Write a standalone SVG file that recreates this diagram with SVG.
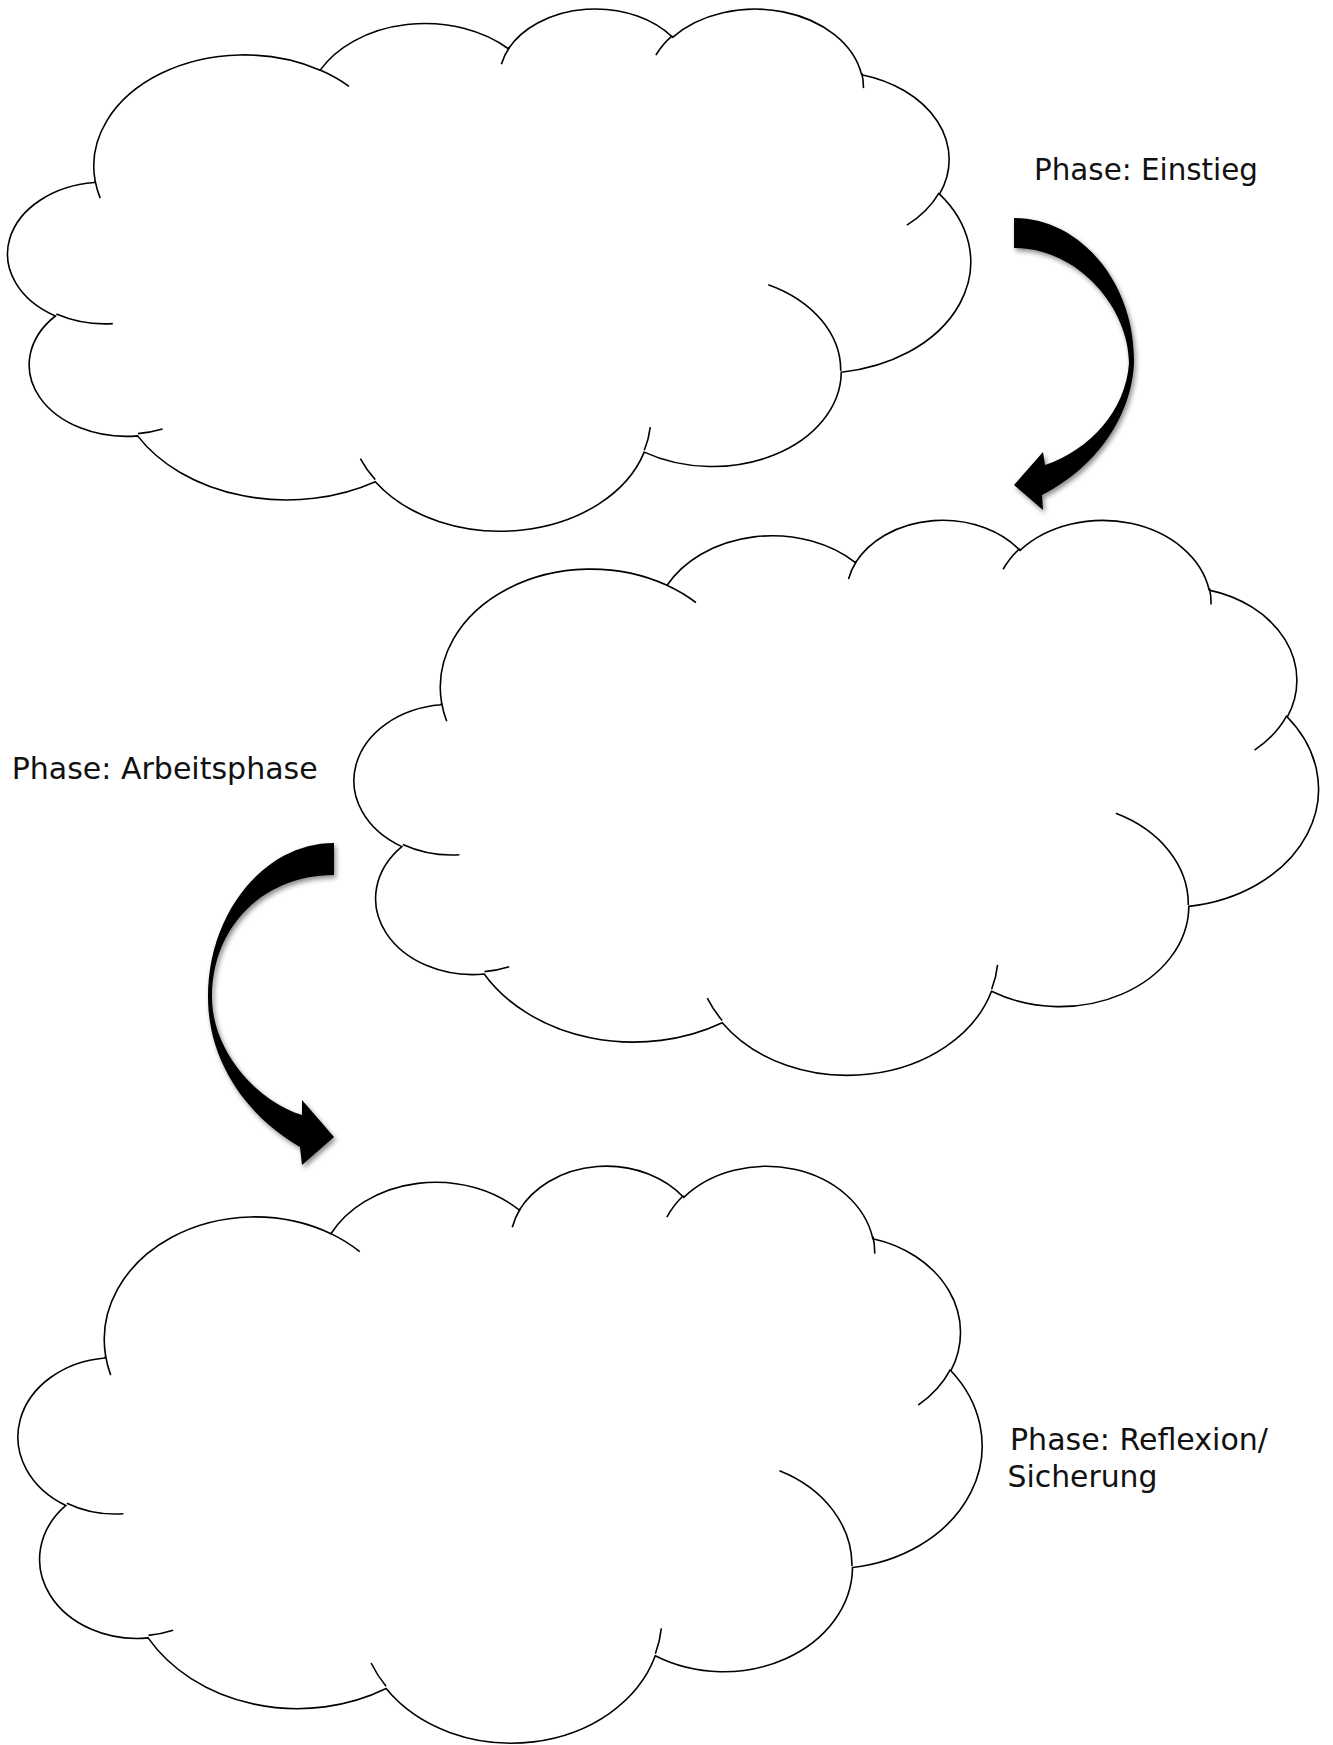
<svg xmlns="http://www.w3.org/2000/svg" xmlns:xlink="http://www.w3.org/1999/xlink" width="1333" height="1745" viewBox="0 0 1333 1745">
  <style>
    .cloud { fill: #ffffff; stroke: #000000; stroke-width: 1.6; vector-effect: non-scaling-stroke; }
    .deco { fill: none; stroke: #000000; stroke-width: 1.6; vector-effect: non-scaling-stroke; }
    .arrow { fill: #000000; stroke: none; filter: url(#shadow); }
    .label { font-family: "DejaVu Sans", "Liberation Sans", sans-serif; font-size: 29.5px; fill: #111111; }
  </style>
  <defs>
    <filter id="shadow" x="-30%" y="-20%" width="160%" height="150%">
      <feDropShadow dx="2" dy="3" stdDeviation="2.5" flood-color="#000000" flood-opacity="0.45"/>
    </filter>
  </defs>
  <rect x="0" y="0" width="1333" height="1745" fill="#ffffff"/>

  <g id="cloud-einstieg" transform="translate(8.3 7.3) scale(0.022269 0.012083)">
    <path class="cloud" d="M 3900 14370 A 6753 9190 0 0 1 14005 5202 A 5333 7267 0 0 1 22456 3432 A 4365 5945 0 0 1 29833 2481 A 4857 6595 0 0 1 38318 5576 A 5333 7273 0 0 1 41818 15460 A 6775 9220 0 0 1 37404 30203 A 5785 7867 0 0 1 28556 36813 A 6752 9215 0 0 1 16481 39264 A 7720 10543 0 0 1 5805 35470 A 4360 5918 0 0 1 2114 25548 A 4345 5945 0 0 1 3864 14504 Z"/>
    <path class="deco" d="M 4693 26177 A 4345 5945 0 0 1 2160 25380 M 6928 34899 A 4360 5918 0 0 1 5820 35280 M 16478 39090 A 6752 9215 0 0 1 15810 37350 M 28827 34751 A 6752 9215 0 0 1 28560 36660 M 34129 22954 A 5785 7867 0 0 1 37380 30090 M 41798 15354 A 5333 7273 0 0 1 40350 18030 M 38324 5426 A 4857 6595 0 0 1 38400 6690 M 29078 3952 A 4857 6595 0 0 1 29820 2339 M 22141 4720 A 4365 5945 0 0 1 22500 3330 M 14000 5192 A 6753 9190 0 0 1 15300 6540 M 4127 15789 A 6753 9190 0 0 1 3900 14370"/>
  </g>

  <g id="cloud-arbeitsphase" transform="translate(354.7 518.5) scale(0.022301 0.012843)">
    <path class="cloud" d="M 3900 14370 A 6753 9190 0 0 1 14005 5202 A 5333 7267 0 0 1 22456 3432 A 4365 5945 0 0 1 29833 2481 A 4857 6595 0 0 1 38318 5576 A 5333 7273 0 0 1 41818 15460 A 6775 9220 0 0 1 37404 30203 A 5785 7867 0 0 1 28556 36813 A 6752 9215 0 0 1 16481 39264 A 7720 10543 0 0 1 5805 35470 A 4360 5918 0 0 1 2114 25548 A 4345 5945 0 0 1 3864 14504 Z"/>
    <path class="deco" d="M 4693 26177 A 4345 5945 0 0 1 2160 25380 M 6928 34899 A 4360 5918 0 0 1 5820 35280 M 16478 39090 A 6752 9215 0 0 1 15810 37350 M 28827 34751 A 6752 9215 0 0 1 28560 36660 M 34129 22954 A 5785 7867 0 0 1 37380 30090 M 41798 15354 A 5333 7273 0 0 1 40350 18030 M 38324 5426 A 4857 6595 0 0 1 38400 6690 M 29078 3952 A 4857 6595 0 0 1 29820 2339 M 22141 4720 A 4365 5945 0 0 1 22500 3330 M 14000 5192 A 6753 9190 0 0 1 15300 6540 M 4127 15789 A 6753 9190 0 0 1 3900 14370"/>
  </g>

  <g id="cloud-reflexion" transform="translate(18.7 1164.3) scale(0.022292 0.013352)">
    <path class="cloud" d="M 3900 14370 A 6753 9190 0 0 1 14005 5202 A 5333 7267 0 0 1 22456 3432 A 4365 5945 0 0 1 29833 2481 A 4857 6595 0 0 1 38318 5576 A 5333 7273 0 0 1 41818 15460 A 6775 9220 0 0 1 37404 30203 A 5785 7867 0 0 1 28556 36813 A 6752 9215 0 0 1 16481 39264 A 7720 10543 0 0 1 5805 35470 A 4360 5918 0 0 1 2114 25548 A 4345 5945 0 0 1 3864 14504 Z"/>
    <path class="deco" d="M 4693 26177 A 4345 5945 0 0 1 2160 25380 M 6928 34899 A 4360 5918 0 0 1 5820 35280 M 16478 39090 A 6752 9215 0 0 1 15810 37350 M 28827 34751 A 6752 9215 0 0 1 28560 36660 M 34129 22954 A 5785 7867 0 0 1 37380 30090 M 41798 15354 A 5333 7273 0 0 1 40350 18030 M 38324 5426 A 4857 6595 0 0 1 38400 6690 M 29078 3952 A 4857 6595 0 0 1 29820 2339 M 22141 4720 A 4365 5945 0 0 1 22500 3330 M 14000 5192 A 6753 9190 0 0 1 15300 6540 M 4127 15789 A 6753 9190 0 0 1 3900 14370"/>
  </g>

  <g id="connectors">
    <path id="arrow-1" class="arrow" d="M 1014 218 C 1080 218 1134 282 1134 360 C 1134 400 1110 460 1042 495 L 1043 510 L 1014 485 L 1043 452 L 1045 465 C 1090 450 1126 410 1129 363 C 1129 310 1080 248 1014 248 Z"/>
    <path id="arrow-2" class="arrow" d="M 334 843 C 265 843 208 912 208 997 C 208 1060 245 1115 300 1147 L 302 1165 L 334 1137 L 302 1100 L 302 1115 C 255 1100 212 1050 212 997 C 212 925 265 875 334 875 Z"/>
  </g>

  <g id="labels">
    <text id="label-einstieg" class="label" x="1034" y="179.5" textLength="224" lengthAdjust="spacingAndGlyphs">Phase: Einstieg</text>
    <text id="label-arbeitsphase" class="label" x="11.7" y="779.3" textLength="306" lengthAdjust="spacingAndGlyphs">Phase: Arbeitsphase</text>
    <text id="label-reflexion" class="label" x="1010" y="1450" textLength="258" lengthAdjust="spacingAndGlyphs">Phase: Reflexion/</text>
    <text id="label-sicherung" class="label" x="1007.5" y="1487" textLength="150" lengthAdjust="spacingAndGlyphs">Sicherung</text>
  </g>
</svg>
